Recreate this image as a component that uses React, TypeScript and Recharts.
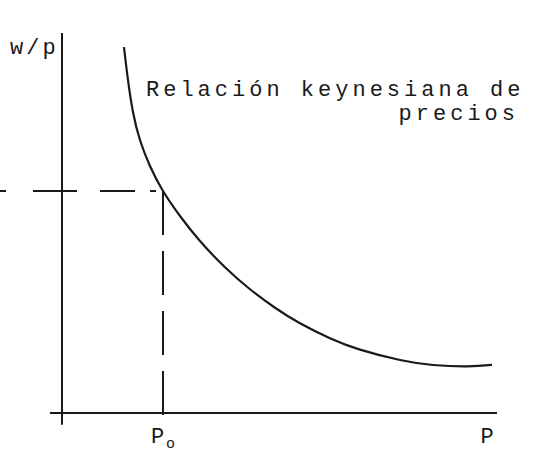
import React from 'react';
import { LineChart, Line, XAxis, YAxis, ReferenceLine, Customized } from 'recharts';

// Curva de la relación keynesiana de precios
const precio = [14.25, 15.17, 16.32, 17.93, 20.23, 23.22, 27.13, 31.72, 37.47, 43.22, 48.97, 54.71, 61.61, 68.51, 77.7, 85.29, 93.1, 98.85];
const salarioReal = [95.56, 86.95, 78.59, 71.28, 64.49, 57.96, 51.44, 44.91, 38.05, 32.31, 27.48, 23.43, 19.52, 16.54, 13.83, 12.53, 12.17, 12.56];

const P0 = 23.22;
const W0 = 57.96;
const xTicks = [P0, 97.7];
const xTickLabels = ['P', 'P'];

const data = precio.map((p, i) => ({ p, w: salarioReal[i] }));

const FONT = '"Liberation Mono", "DejaVu Sans Mono", monospace';
const INK = '#1a1a1a';

function PriceTick(props: any) {
  const { x, y, payload, index } = props;
  const isP0 = Math.abs(payload.value - P0) < 0.01;
  return (
    <text x={x} y={y + 22} textAnchor="middle" fontFamily={FONT} fontSize={22} fill={INK}>
      {xTickLabels[index]}
      {isP0 && (
        <tspan fontSize={15} dx={2} dy={5}>o</tspan>
      )}
    </text>
  );
}

function Labels() {
  return (
    <g fontFamily={FONT} fill={INK} fontSize={22}>
      <text x={10} y={54} letterSpacing={3}>w/p</text>
      <text x={146} y={96} letterSpacing={4}>Relación keynesiana de</text>
      <text x={519} y={120} letterSpacing={4} textAnchor="end">precios</text>
    </g>
  );
}

export default function App() {
  return (
    <div style={{ position: 'absolute', left: 0, top: 0, background: '#fff' }}>
      <LineChart width={549} height={453} data={data} margin={{ top: 30, right: 52, bottom: 10, left: 0 }}>
        <XAxis
          dataKey="p"
          type="number"
          domain={[-14.25, 100]}
          ticks={xTicks}
          axisLine={false}
          tickLine={false}
          tick={<PriceTick />}
          interval={0}
          height={30}
        />
        <YAxis type="number" domain={[0, 100]} hide />
        {/* ejes */}
        <ReferenceLine
          segment={[{ x: -2.76, y: 0 }, { x: 100, y: 0 }]}
          stroke={INK}
          strokeWidth={2}
          ifOverflow="visible"
        />
        <ReferenceLine
          segment={[{ x: 0, y: -3.1 }, { x: 0, y: 99.2 }]}
          stroke={INK}
          strokeWidth={2}
          ifOverflow="visible"
        />
        {/* líneas de referencia en P0 */}
        <ReferenceLine
          segment={[{ x: -14.25, y: W0 }, { x: P0, y: W0 }]}
          stroke={INK}
          strokeWidth={2}
          strokeDasharray="6 27 44 23 35 15"
          ifOverflow="visible"
        />
        <ReferenceLine
          segment={[{ x: P0, y: W0 }, { x: P0, y: -1.8 }]}
          stroke={INK}
          strokeWidth={2}
          strokeDasharray="44 16"
          ifOverflow="visible"
        />
        <Line
          dataKey="w"
          type="natural"
          stroke={INK}
          strokeWidth={2.2}
          dot={false}
          isAnimationActive={false}
        />
        <Customized component={<Labels />} />
      </LineChart>
    </div>
  );
}
